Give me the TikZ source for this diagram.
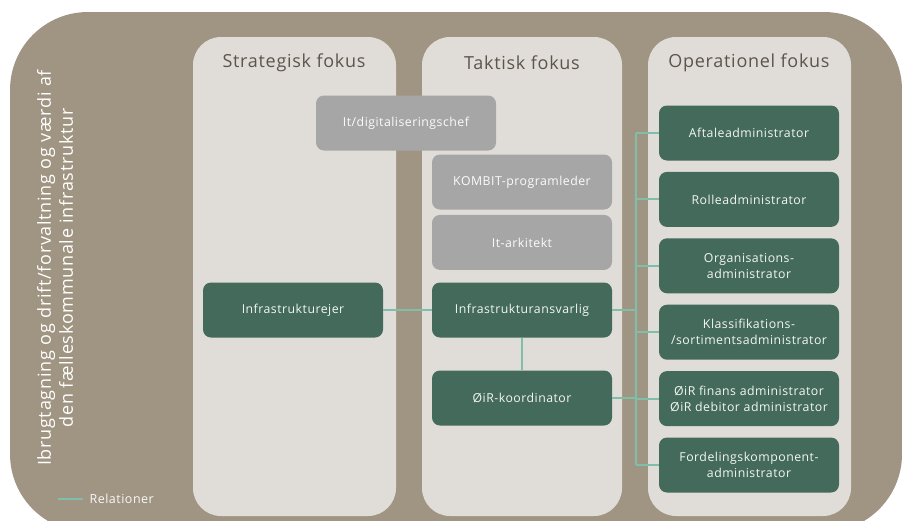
\documentclass[tikz,border=0pt]{standalone}
\usepackage{fontspec}
\setmainfont{Open Sans}[LetterSpace=4]
\usetikzlibrary{positioning}

\definecolor{rammebrun}{HTML}{A09482}
\definecolor{kolonne}{HTML}{E0DDD8}
\definecolor{graa}{HTML}{A6A6A6}
\definecolor{groen}{HTML}{436A5A}
\definecolor{relation}{HTML}{7FBFA9}
\definecolor{overskrift}{HTML}{5C554C}

\tikzset{
  kolonnefelt/.style={fill=kolonne, rounded corners=28pt},
  titel/.style={text=overskrift, font=\fontsize{18}{21}\selectfont},
  rolle/.style={fill=groen, text=white!94!groen, rounded corners=8pt, inner sep=0pt,
    minimum width=180pt, minimum height=55pt, align=center,
    font=\fontsize{12.3}{16}\selectfont},
  graarolle/.style={rolle, fill=graa, text=white!95!graa},
  relationslinje/.style={draw=relation, line width=2pt},
}

\begin{document}
\begin{tikzpicture}[x=1pt,y=-1pt, node distance=11pt]
  \useasboundingbox (0,0) rectangle (902,520);
  % ramme og kolonner
  \fill[rammebrun, rounded corners=78pt] (10,12) rectangle (902,532);
  \fill[kolonnefelt] (193,37) rectangle (396,516);
  \fill[kolonnefelt] (422,37) rectangle (622,516);
  \fill[kolonnefelt] (648,37) rectangle (851,516);

  \node[titel] (strategisk) at (294,63) {Strategisk fokus};
  \node[titel] (taktisk) at (522,63) {Taktisk fokus};
  \node[titel] (operationel) at (749,63) {Operationel fokus};

  \node[rotate=90, align=center, text=white, font=\fontsize{18}{22}\selectfont] (omfang) at (55,268)
    {Ibrugtagning og drift/forvaltning og værdi af\\den fælleskommunale infrastruktur};

  % strategisk og taktisk
  \node[graarolle] (chef) at (406,123) {It/digitaliseringschef};
  \node[graarolle] (kombit) at (522,182) {KOMBIT-programleder};
  \node[graarolle, below=5pt of kombit] (arkitekt) {It-arkitekt};
  \node[rolle] (ejer) at (293,310) {Infrastrukturejer};
  \node[rolle] (ansvarlig) at (522,310) {Infrastrukturansvarlig};
  \node[rolle] (koordinator) at (522,398) {ØiR-koordinator};

  % operationel
  \node[rolle] (aftale) at (749,133) {Aftaleadministrator};
  \node[rolle, below=of aftale] (rolleadm) {Rolleadministrator};
  \node[rolle, below=of rolleadm] (organisation) {Organisations-\\administrator};
  \node[rolle, below=of organisation] (klassifikation) {Klassifikations-\\/sortimentsadministrator};
  \node[rolle, below=of klassifikation] (oir) {ØiR finans administrator\\ØiR debitor administrator};
  \node[rolle, below=of oir] (fordeling) {Fordelingskomponent-\\administrator};

  % relationer
  \coordinate (bus) at (636,0);
  \draw[relationslinje] (ejer) -- (ansvarlig);
  \draw[relationslinje] (ansvarlig) -- (koordinator);
  \draw[relationslinje] (ansvarlig.east) -- (ansvarlig.east -| bus);
  \draw[relationslinje] (koordinator.east) -- (koordinator.east -| bus);
  \draw[relationslinje] (aftale.west -| bus) -- (fordeling.west -| bus);
  \draw[relationslinje] (aftale.west) -- (aftale.west -| bus);
  \draw[relationslinje] (rolleadm.west) -- (rolleadm.west -| bus);
  \draw[relationslinje] (organisation.west) -- (organisation.west -| bus);
  \draw[relationslinje] (klassifikation.west) -- (klassifikation.west -| bus);
  \draw[relationslinje] (oir.west) -- (oir.west -| bus);
  \draw[relationslinje] (fordeling.west) -- (fordeling.west -| bus);

  % forklaring
  \node[anchor=west, text=white!94!rammebrun, font=\fontsize{12.5}{14}\selectfont] (relationer) at (86,499) {Relationer};
  \coordinate (forklaring) at (58,499);
  \draw[relationslinje] (forklaring) -- ([xshift=-3pt]relationer.west);
\end{tikzpicture}
\end{document}
